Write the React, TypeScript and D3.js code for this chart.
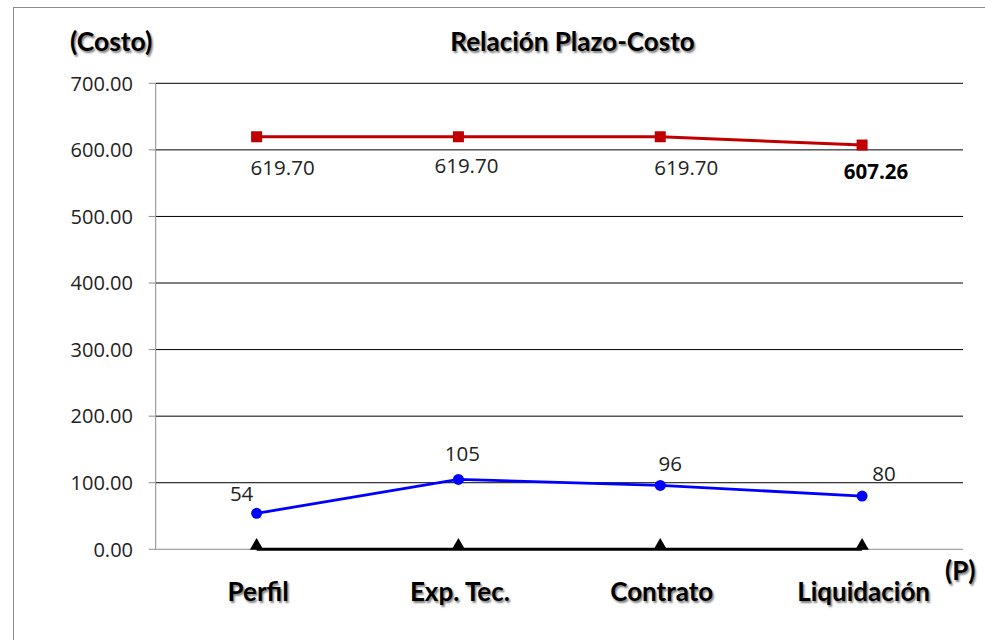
import React from "react";
import * as d3 from "d3";

const categories = ["Perfil", "Exp. Tec.", "Contrato", "Liquidación"];
const costValues = [619.7, 619.7, 619.7, 607.26];
const costLabels = ["619.70", "619.70", "619.70", "607.26"];
const plazoValues = [54, 105, 96, 80];
const baseValues = [0, 0, 0, 0];
const yTicks = [0, 100, 200, 300, 400, 500, 600, 700];

const W = 985;
const H = 640;
const left = 155.7;
const right = 963;
const top = 83.3;
const bottom = 549.3;

export default function App() {
  const x = d3.scaleBand<string>().domain(categories).range([left, right]);
  const cx = (c: string) => (x(c) as number) + x.bandwidth() / 2;
  const y = d3.scaleLinear().domain([0, 700]).range([bottom, top]);
  const line = d3
    .line<number>()
    .x((_, i) => cx(categories[i]))
    .y((d) => y(d));
  const shadow = "1.5px 1.5px 2px rgba(0,0,0,0.5)";
  const boldFont = "Lato, 'Open Sans', sans-serif";
  const numFont = "'Open Sans', 'DejaVu Sans', sans-serif";
  const tri = d3.symbol().type(d3.symbolTriangle).size(80);

  return (
    <svg
      width={W}
      height={H}
      style={{ position: "fixed", left: 0, top: 0, background: "#fff" }}
    >
      <rect x={13.5} y={7.5} width={1000} height={700} fill="#fff" stroke="#8c8c8c" strokeWidth={1} />
      {/* gridlines */}
      {yTicks.slice(1).map((t) => (
        <line key={t} x1={left} x2={right} y1={y(t)} y2={y(t)} stroke="#000" strokeWidth={1} />
      ))}
      {/* axes */}
      <line x1={left} x2={left} y1={top} y2={bottom} stroke="#8c8c8c" strokeWidth={1} />
      <line x1={left} x2={right} y1={bottom} y2={bottom} stroke="#8c8c8c" strokeWidth={1} />
      {yTicks.map((t) => (
        <g key={"t" + t}>
          <line x1={left - 7} x2={left} y1={y(t)} y2={y(t)} stroke="#8c8c8c" strokeWidth={1} />
          <text
            x={133}
            y={y(t)}
            dy="0.36em"
            textAnchor="end"
            fontFamily={numFont}
            fontSize={20}
            fill="#222"
          >
            {t.toFixed(2)}
          </text>
        </g>
      ))}
      {/* base series */}
      <path d={line(baseValues) || ""} fill="none" stroke="#000" strokeWidth={3} />
      {baseValues.map((v, i) => (
        <path
          key={"b" + i}
          d={tri() || ""}
          transform={`translate(${cx(categories[i])},${y(v) - 3.5})`}
          fill="#000"
        />
      ))}
      {/* cost series */}
      <path d={line(costValues) || ""} fill="none" stroke="#C00000" strokeWidth={3} />
      {costValues.map((v, i) => (
        <rect
          key={"c" + i}
          x={cx(categories[i]) - 5.5}
          y={y(v) - 5.5}
          width={11}
          height={11}
          fill="#C00000"
        />
      ))}
      {costValues.map((v, i) => {
        const last = i === costValues.length - 1;
        return (
          <text
            key={"cl" + i}
            x={cx(categories[i]) + (last ? 14 : i === 1 ? 8 : 26)}
            y={y(v) + (last ? 34 : i === 1 ? 36 : 38)}
            textAnchor="middle"
            fontFamily={numFont}
            fontSize={20.5}
            fontWeight={last ? "bold" : "normal"}
            fill={last ? "#000" : "#222"}
          >
            {costLabels[i]}
          </text>
        );
      })}
      {/* plazo series */}
      <path d={line(plazoValues) || ""} fill="none" stroke="#0000FF" strokeWidth={2.8} />
      {plazoValues.map((v, i) => (
        <circle key={"p" + i} cx={cx(categories[i])} cy={y(v)} r={5.5} fill="#0000FF" />
      ))}
      {plazoValues.map((v, i) => {
        const dxs = [-15, 4, 10, 22];
        const dys = [-12, -18, -14, -15];
        return (
          <text
            key={"pl" + i}
            x={cx(categories[i]) + dxs[i]}
            y={y(v) + dys[i]}
            textAnchor="middle"
            fontFamily={numFont}
            fontSize={20.5}
            fill="#222"
          >
            {v}
          </text>
        );
      })}
      {/* category labels */}
      {categories.map((c) => (
        <text
          key={"x" + c}
          x={cx(c) + 1.5}
          y={601}
          textAnchor="middle"
          fontFamily={boldFont}
          fontWeight="bold"
          fontSize={26}
          fill="#000"
          style={{ textShadow: shadow }}
        >
          {c}
        </text>
      ))}
      <text x={70} y={51} fontFamily={boldFont} fontWeight="bold" fontSize={26.5} fill="#000" style={{ textShadow: shadow }}>
        (Costo)
      </text>
      <text
        x={572.5}
        y={51}
        textAnchor="middle"
        fontFamily={boldFont}
        fontWeight="bold"
        fontSize={26}
        fill="#000"
        style={{ textShadow: shadow }}
      >
        Relación Plazo-Costo
      </text>
      <text x={945} y={580} fontFamily={boldFont} fontWeight="bold" fontSize={26} fill="#000" style={{ textShadow: shadow }}>
        (P)
      </text>
    </svg>
  );
}
